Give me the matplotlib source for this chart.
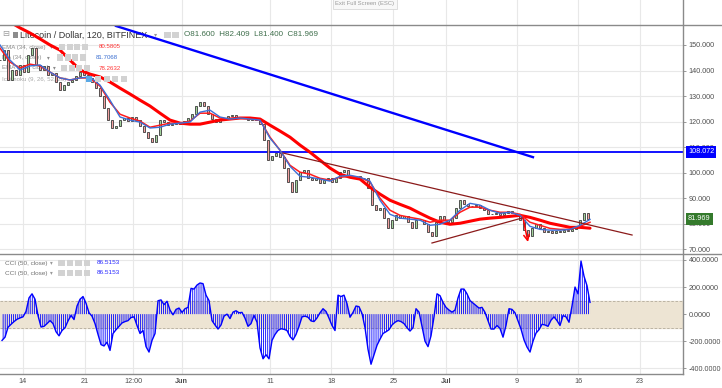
import numpy as np
import matplotlib
matplotlib.use('Agg')
import matplotlib.pyplot as plt
from matplotlib.patches import Rectangle
from matplotlib.lines import Line2D
from matplotlib.ticker import FuncFormatter

plt.rcParams['font.family'] = ['Liberation Sans', 'DejaVu Sans']
plt.rcParams['hatch.linewidth'] = 0.6
plt.rcParams['hatch.color'] = '#0000ff'

W, H = 722, 388

# x axis = days since 14 May (LTC/USD, 120 min bars, Bitfinex)
X_MIN, X_MAX = -2.61, 74.88
tick_days = [0, 7, 12.5, 18, 28, 35, 42, 48, 56, 63, 70]
tick_labels = ['14', '21', '12:00', 'Jun', '11', '18', '25', 'Jul', '9', '16', '23']

# closes, read roughly every 11 hours
close = [144.1, 148.0, 136.3, 140.2, 138.2, 142.2, 139.4, 146.1, 148.8, 142.2,
         140.2, 141.8, 138.2, 139.0, 135.5, 132.4, 134.3, 135.5, 136.3, 137.8,
         139.4, 138.2, 137.1, 135.5, 133.1, 130.0, 125.3, 120.6, 117.5, 118.2,
         120.6, 121.4, 120.2, 121.8, 120.6, 118.2, 115.9, 113.5, 112.0, 114.7,
         120.6, 119.8, 118.6, 119.0, 119.8, 119.0, 120.2, 121.4, 122.9, 126.1,
         127.6, 126.1, 122.9, 121.0, 119.8, 120.6, 121.4, 122.2, 122.5, 121.8,
         121.4, 121.4, 120.6, 121.0, 120.6, 119.0, 112.7, 104.9, 106.5, 107.6,
         106.1, 101.8, 96.3, 92.4, 97.1, 100.2, 101.0, 97.8, 97.1, 97.8,
         95.9, 97.1, 97.8, 96.3, 97.8, 100.2, 101.0, 98.6, 97.8, 98.6,
         97.8, 97.8, 93.9, 87.3, 85.3, 86.1, 82.2, 78.2, 81.4, 83.3,
         82.2, 82.9, 80.6, 78.2, 81.4, 81.4, 79.8, 76.7, 75.1, 80.6,
         82.9, 81.4, 80.6, 82.2, 86.1, 89.2, 87.6, 86.9, 86.9, 87.3,
         86.1, 85.3, 83.7, 83.7, 84.1, 83.3, 84.1, 84.9, 84.1, 82.9,
         81.4, 77.5, 75.1, 78.2, 79.8, 78.2, 76.7, 77.1, 76.3, 77.1,
         76.7, 77.5, 77.1, 77.8, 78.6, 81.4, 84.1, 81.969]
close_t = np.linspace(-2.61, 64.10, len(close))

# moving averages, read about every 27 hours
ma_slow = [161.0, 159.0, 156.7, 154.7, 152.4, 150.0, 148.0, 144.1, 140.2, 138.6,
           137.5, 135.5, 133.1, 130.8, 128.4, 126.1, 123.3, 120.6, 119.4, 119.0,
           119.0, 119.8, 120.6, 121.0, 121.4, 121.4, 121.0, 118.6, 116.3, 113.9,
           110.8, 108.0, 104.9, 101.8, 99.4, 98.2, 97.5, 94.3, 91.6, 89.2,
           87.6, 86.1, 84.1, 82.2, 80.6, 79.8, 80.2, 81.0, 81.8, 82.2,
           82.5, 82.9, 83.3, 82.5, 81.4, 80.2, 79.4, 78.6, 78.6, 78.2632]
ema_34 = [148.8, 143.3, 141.0, 142.5, 141.8, 139.4, 137.1, 136.3, 137.1, 137.1,
          133.9, 127.6, 122.9, 121.4, 120.2, 117.8, 118.6, 119.4, 119.4, 120.2,
          123.3, 123.3, 121.4, 121.0, 121.4, 121.0, 120.6, 113.9, 108.8, 102.9,
          100.2, 99.4, 97.8, 97.1, 98.2, 98.6, 98.2, 96.3, 90.0, 85.3,
          83.3, 82.5, 81.8, 80.6, 81.4, 81.4, 84.5, 86.5, 86.5, 85.3,
          84.5, 84.5, 83.7, 80.6, 79.4, 78.2, 77.8, 77.8, 79.0, 80.5805]
ma_34 = [150.0, 144.1, 140.2, 141.8, 142.2, 139.4, 137.1, 136.3, 137.1, 137.5,
         134.3, 128.4, 121.8, 120.6, 119.8, 117.5, 117.8, 119.0, 119.4, 119.8,
         123.7, 124.5, 121.8, 121.0, 121.4, 121.0, 120.6, 113.5, 108.8, 102.5,
         98.6, 98.2, 97.5, 96.7, 98.6, 99.0, 98.2, 96.7, 89.2, 83.7,
         82.2, 81.8, 81.4, 79.4, 79.8, 81.4, 85.3, 88.0, 87.3, 85.3,
         84.1, 84.5, 83.3, 79.0, 77.8, 77.5, 77.5, 77.8, 79.4, 81.7068]
ma_t = np.linspace(-2.61, 64.33, len(ma_slow))

# CCI (50, close), read about every 8 hours
cci = [-194, -170, -97, -75, -55, -38, -28, -20, 20, 120,
       150, 110, -11, -95, -90, -70, -48, -70, -130, -160,
       -121, -100, -50, -10, -40, 60, 110, 130, 80, 10,
       -15, -70, -150, -225, -235, -207, -268, -143, -115, -90,
       -65, -55, -48, -25, -20, -84, -143, -121, -240, -280,
       -194, -143, 99, 105, 70, 95, 30, -5, 35, 45,
       13, 40, 50, 190, 185, 215, 230, 225, 140, 100,
       -48, -80, -110, -80, -15, 0, -33, 15, 25, 10,
       13, -30, -90, -70, -10, -60, -250, -330, -300, -330,
       -194, -150, -120, -108, -112, -121, -165, -190, -150, -90,
       -20, -15, -23, -50, -55, -28, 10, 40, 20, -30,
       -84, -121, 140, 130, 140, 77, -23, 13, 60, 55,
       5, -100, -260, -370, -300, -230, -185, -143, -130, -115,
       -80, -60, -48, -55, -70, -100, -125, -100, 40, 15,
       -90, -200, -240, -160, -20, 150, 136, 86, 50, 30,
       15, 30, 120, 185, 185, 150, 100, 82, 65, 45,
       50, 13, -48, -110, -110, -84, -106, -170, -84, 40,
       35, 10, -50, -110, -190, -243, -280, -200, -140, -115,
       -75, -80, -90, -45, -20, -48, -84, -11, -20, -60,
       60, 200, 150, 392, 280, 210, 86.5153]
cci_t = np.linspace(-2.38, 64.33, len(cci))

# drawings on the chart (day, price)
h_level = 108.072
blue_trend = ([10.55, 57.86], [157.45, 106.08])
upper_trend = ([29.5, 69.1], [107.7, 75.6])
lower_trend = ([46.40, 56.62], [72.47, 82.25])
arrow_start = (56.73, 82.25)
arrow_end = (57.29, 72.86)


def fx(x):
    return x / W


def fy(y):
    return 1 - y / H


fig = plt.figure(figsize=(W / 100, H / 100), dpi=100)
fig.patch.set_facecolor('white')

ax_top = fig.add_axes([0, fy(25), fx(683), 25 / H])
ax = fig.add_axes([0, fy(254), fx(683), (254 - 25) / H])
ax_cci = fig.add_axes([0, fy(374), fx(683), (374 - 254) / H])

grid_c = '#e8e8e8'
lbl_c = '#4f4f4f'

for a in (ax_top, ax, ax_cci):
    a.set_xlim(X_MIN, X_MAX)
    a.set_xticks(tick_days)
    a.grid(True, color=grid_c, lw=0.8)
    a.set_axisbelow(True)
    for s in a.spines.values():
        s.set_visible(False)

ax_top.set_ylim(0, 1)
ax_top.set_yticks([])
ax_top.tick_params(axis='x', length=0, labelbottom=False)

# ---- price pane
ax.set_ylim(68.16, 157.83)
ax.set_yticks(range(70, 151, 10))
ax.yaxis.tick_right()
ax.yaxis.set_major_formatter(FuncFormatter(lambda v, p: f'{v:.3f}'))
ax.tick_params(axis='y', length=2.5, width=0.6, color='#888888', pad=1.5,
               labelsize=5.2, labelcolor=lbl_c)
ax.tick_params(axis='x', length=0, labelbottom=False)

ax.axhline(h_level, color='#0000ff', lw=1.3, zorder=2)

opens = np.array([close[0]] + close[:-1])
closes = np.array(close)
cols = np.where(closes >= opens, '#a3d39c', '#f2a2a2')
ax.bar(close_t, closes - opens, bottom=opens, width=0.24, color=cols,
       edgecolor='#3a3a3a', linewidth=0.6, zorder=3)

ax.plot(ma_t, ma_slow, color='#ff0000', lw=2.2, zorder=4, solid_capstyle='round')
ax.plot(ma_t, ema_34, color='#ff1c1c', lw=1.1, zorder=5)
ax.plot(ma_t, ma_34, color='#3d6fd6', lw=1.0, zorder=5)

ax.plot(*blue_trend, color='#0000ff', lw=1.7, zorder=6)
ax.plot(*upper_trend, color='#8b1a1a', lw=0.9, zorder=6)
ax.plot(*lower_trend, color='#8b1a1a', lw=0.9, zorder=6)
ax.annotate('', xy=arrow_end, xytext=arrow_start, zorder=6,
            arrowprops=dict(arrowstyle='->', color='#ff0000', lw=1.1,
                            shrinkA=0, shrinkB=0))

# ---- CCI pane
ax_cci.set_ylim(-442, 444)
ax_cci.axhspan(-100, 100, color='#ede4d3', zorder=1)
for lv in (100, -100):
    ax_cci.axhline(lv, color='#b3ab9c', lw=0.6, ls=(0, (3, 2)), zorder=1.5)
ax_cci.fill_between(cci_t, 0, cci, facecolor='none', edgecolor='#0000ff',
                    hatch='||||||||', linewidth=0, zorder=2)
ax_cci.plot(cci_t, cci, color='#0000ff', lw=1.0, zorder=3)
ax_cci.set_yticks([-400, -200, 0, 200, 400])
ax_cci.yaxis.tick_right()
ax_cci.yaxis.set_major_formatter(FuncFormatter(lambda v, p: f'{v:.4f}'))
ax_cci.tick_params(axis='y', length=2.5, width=0.6, color='#888888', pad=1.5,
                   labelsize=5.2, labelcolor=lbl_c)
ax_cci.set_xticklabels(tick_labels)
ax_cci.tick_params(axis='x', length=0, pad=3, labelsize=5.2, labelcolor=lbl_c)
for t in ax_cci.get_xticklabels():
    if t.get_text() in ('Jun', 'Jul'):
        t.set_fontweight('bold')

# ---- frame lines
line_c = '#8a8a8a'
for (x0, x1, y) in [(0, 722, 25), (0, 722, 254), (0, 683, 374)]:
    fig.add_artist(Line2D([fx(x0), fx(x1)], [fy(y), fy(y)], color=line_c, lw=1.0))
fig.add_artist(Line2D([fx(683), fx(683)], [fy(0), fy(374)], color=line_c, lw=1.0))

fig.text(fx(365), fy(4), 'Exit Full Screen (ESC)', ha='center', va='center',
         fontsize=4.2, color='#9a9a9a',
         bbox=dict(boxstyle='square,pad=0.35', fc='#f8f8f8', ec='#d8d8d8', lw=0.6))

# last value tags on the price scale
fig.text(fx(688), fy(152), '108.072', ha='left', va='center', fontsize=5.2,
         color='white', bbox=dict(boxstyle='square,pad=0.3', fc='#0000ff', ec='none'))
fig.text(fx(688), fy(219), '81.969', ha='left', va='center', fontsize=5.2,
         color='white', bbox=dict(boxstyle='square,pad=0.3', fc='#347a2c', ec='none'))


# ---- legends
def icons(x0, y, n, size=6.5, step=8.2, first_blue=False):
    for i in range(n):
        fc = '#5aa9e6' if (first_blue and i == 0) else '#d2d2d2'
        fig.add_artist(Rectangle((fx(x0 + i * step), fy(y + size / 2)),
                                 size / W, size / H, transform=fig.transFigure,
                                 fc=fc, ec='none'))


def ltext(x, y, s, size=4.4, color='#8a8a8a', **kw):
    ax.text(fx(x), fy(y), s, transform=fig.transFigure, fontsize=size,
            color=color, va='center', ha='left', zorder=2.5, **kw)


ltext(2, 35, '⊟', size=6, color='#9a9a9a')
fig.add_artist(Rectangle((fx(13), fy(38)), 5 / W, 6 / H, transform=fig.transFigure,
                         fc='#8c8c8c', ec='none'))
ltext(20, 35, 'Litecoin / Dollar, 120, BITFINEX', size=6.5, color='#333333')
ltext(154, 35, '▾', size=4.5, color='#999999')
icons(164, 35, 2)
ltext(184, 35, 'O81.600  H82.409  L81.400  C81.969', size=5.8, color='#3e6e4b')

rows = [(47, 'EMA (34, close)', 50, 59, '80.5805', 99, '#ff3535'),
        (57.5, 'MA (34, close)', 47, 57, '81.7068', 96, '#3a6ed0'),
        (68, 'EMA (100, close)', 53, 61, '78.2632', 99, '#ff3535')]
for y, name, xa, xi, val, xv, vc in rows:
    ltext(2, y, name)
    ltext(xa, y, '▾', size=4)
    icons(xi, y, 4, size=6, step=7.6)
    ltext(xv, y, val, color=vc)
ltext(2, 79, 'Ichimoku (9, 26, 52, 26)', color='#a8a8a8')
icons(86, 79, 5, size=6, step=8.8, first_blue=True)

for y in (263, 273):
    fig.text(fx(5), fy(y), 'CCI (50, close)', fontsize=4.6, color='#707070',
             va='center')
    fig.text(fx(50), fy(y), '▾', fontsize=4, color='#999999', va='center')
    icons(58, y, 4, size=6.5, step=8.6)
    fig.text(fx(97), fy(y), '86.5153', fontsize=4.6, color='#2a2aff', va='center')

fig.savefig('out.png', dpi=100)
